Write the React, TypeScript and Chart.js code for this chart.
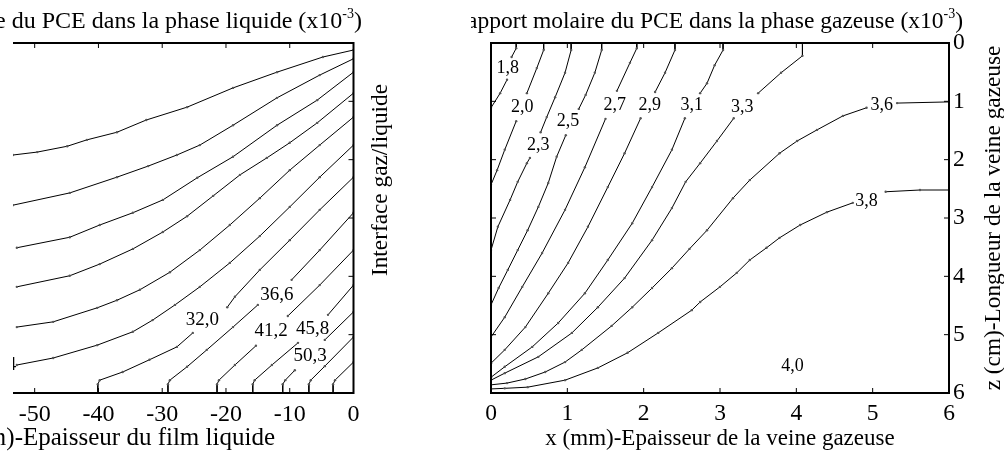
import React, { useEffect, useRef } from 'react';
import { Chart, registerables } from 'chart.js';

Chart.register(...registerables);

const SERIF = "'Liberation Serif', 'Times New Roman', Times, serif";

// ---------------- Left panel: liquid phase ----------------
const liquidTitle = 'Fraction molaire du PCE dans la phase liquide (x10';
const titleSup = '-3';
const titleTail = ')';
const liquidXTitle = 'x (µm)-Epaisseur du film liquide';
const interfaceTitle = 'Interface gaz/liquide';
const liquidXTicks = [-50, -40, -30, -20, -10, 0];
const zTicks = [0, 1, 2, 3, 4, 5, 6];

const liquidLevels = ['4,6', '9,2', '13,7', '18,3', '22,9', '27,4', '32,0', '36,6', '41,2', '45,8', '50,3', '54,9', '59,5'];
const liquidLineX: (number | null)[][] = [
  [0, -4.8, -12.0, -18.9, -26.1, -32.5, -37.1, -41.8, -44.9, -49.6, -53.4],
  [0, -5.3, -12.0, -18.9, -24.1, -27.7, -32.2, -37.1, -44.5, -53.4],
  [0, -5.7, -12.0, -18.9, -24.5, -29.9, -34.6, -39.8, -44.5, -52.8],
  [0, -5.7, -10.0, -13.6, -17.8, -22.0, -26.1, -29.9, -34.6, -39.8, -44.5, -52.8],
  [0, -5.3, -10.0, -14.7, -19.4, -24.1, -28.8, -33.5, -37.1, -40.2, -47.1, -52.8],
  [0, -5.3, -10.0, -14.7, -19.4, -24.1, -28.0, -31.5, -34.6, -40.2, -47.1, -52.8],
  [0, -5.3, -10.0, -14.7, -18.6, -19.8, null, -25.2, -27.7, -32.0, -36.2, -39.8, -40.1, -40.1],
  [0, -5.3, -9.7, null, -15.0, -18.9, -23.0, -26.1, -28.8, -29.1, -29.1],
  [0, -5.3, -10.3, null, -15.3, -18.6, -21.1, -21.4, -21.4],
  [0, -4.0, null, -8.7, -12.8, -15.5, -15.8, -15.8],
  [0, -4.5, null, -9.2, -10.7, -11.1, -11.1],
  [0, -4.5, -6.7, -7.0, -7.0],
  [0, -2.9, -3.2, -3.2],
];
const liquidLineZ: (number | null)[][] = [
  [0.12, 0.24, 0.50, 0.77, 1.10, 1.32, 1.53, 1.66, 1.77, 1.87, 1.92],
  [0.27, 0.55, 0.94, 1.41, 1.75, 1.92, 2.11, 2.30, 2.57, 2.78],
  [0.50, 0.98, 1.41, 1.95, 2.31, 2.69, 2.91, 3.12, 3.33, 3.51],
  [0.86, 1.37, 1.71, 1.97, 2.26, 2.62, 2.97, 3.24, 3.53, 3.79, 3.99, 4.18],
  [1.27, 1.75, 2.18, 2.66, 3.12, 3.55, 3.93, 4.23, 4.41, 4.54, 4.78, 4.87],
  [1.75, 2.30, 2.81, 3.31, 3.77, 4.18, 4.49, 4.75, 4.95, 5.18, 5.40, 5.52],
  [2.30, 2.86, 3.38, 3.89, 4.35, 4.53, null, 4.97, 5.21, 5.43, 5.64, 5.78, 5.85, 6.0],
  [2.91, 3.55, 4.06, null, 4.49, 4.87, 5.26, 5.55, 5.78, 5.85, 6.0],
  [3.55, 4.15, 4.68, null, 5.19, 5.52, 5.78, 5.85, 6.0],
  [4.15, 4.66, null, 5.14, 5.52, 5.78, 5.85, 6.0],
  [4.61, 5.09, null, 5.61, 5.78, 5.85, 6.0],
  [5.04, 5.54, 5.78, 5.85, 6.0],
  [5.47, 5.78, 5.85, 6.0],
];
const liquidLabelText = ['27,4', '32,0', '36,6', '41,2', '45,8', '50,3'];
const liquidLabelX = [-55.5, -23.7, -12.0, -12.9, -6.4, -6.8];
const liquidLabelZ = [5.52, 4.75, 4.32, 4.94, 4.90, 5.37];

// ---------------- Right panel: gas phase ----------------
const gasTitle = 'Rapport molaire du PCE dans la phase gazeuse (x10';
const gasXTitle = 'x (mm)-Epaisseur de la veine gazeuse';
const gasZTitle = 'z (cm)-Longueur de la veine gazeuse';
const gasXTicks = [0, 1, 2, 3, 4, 5, 6];

const gasLevels = ['1,8', '2,0', '2,3', '2,5', '2,7', '2,9', '3,1', '3,3', '3,6', '3,8'];
const gasLineX: (number | null)[][] = [
  [0.33, 0.33, 0.27, null, 0.21, 0.12, 0],
  [0.69, 0.69, 0.60, 0.47, null, 0.33, 0.18, 0.08, 0],
  [1.05, 1.05, 0.97, 0.84, 0.73, 0.65, null, 0.51, 0.47, 0.35, 0.25, 0.09, 0],
  [1.45, 1.45, 1.36, 1.24, 1.15, null, 0.98, 0.86, 0.75, 0.62, 0.48, 0.35, 0.22, 0.10, 0],
  [1.91, 1.91, 1.82, 1.65, null, 1.50, 1.23, 0.97, 0.67, 0.41, 0.18, 0],
  [2.41, 2.41, 2.28, 2.15, null, 1.96, 1.75, 1.53, 1.27, 1.01, 0.75, 0.45, 0.18, 0],
  [3.04, 3.04, 2.93, 2.83, 2.74, null, 2.54, 2.37, 2.11, 1.85, 1.53, 1.23, 0.88, 0.54, 0.18, 0],
  [4.08, 4.08, 3.80, 3.50, null, 3.18, 2.96, 2.74, 2.55, 2.37, 2.11, 1.75, 1.40, 1.06, 0.62, 0.18, 0],
  [6, 5.32, null, 4.92, 4.61, 4.27, 4.01, 3.78, 3.39, 3.17, 2.83, 2.60, 2.37, 2.11, 1.85, 1.58, 1.19, 0.97, 0.71, 0.45, 0.21, 0],
  [6, 5.62, 5.17, null, 4.74, 4.40, 4.05, 3.78, 3.61, 3.39, 3.22, 3.00, 2.74, 2.63, 2.19, 1.79, 1.40, 0.97, 0.48, 0.18, 0],
];
const gasLineZ: (number | null)[][] = [
  [0, 0.09, 0.24, null, 0.63, 0.86, 1.11],
  [0, 0.12, 0.43, 0.86, null, 1.34, 1.83, 2.18, 2.43],
  [0, 0.12, 0.51, 0.93, 1.27, 1.53, null, 1.97, 2.06, 2.38, 2.69, 3.15, 3.55],
  [0, 0.12, 0.51, 0.89, 1.13, null, 1.58, 1.95, 2.40, 2.81, 3.21, 3.55, 3.89, 4.20, 4.49],
  [0, 0.09, 0.34, 0.82, null, 1.30, 2.13, 2.86, 3.60, 4.18, 4.70, 5.04],
  [0, 0.12, 0.51, 0.84, null, 1.29, 1.89, 2.47, 3.15, 3.77, 4.29, 4.87, 5.26, 5.49],
  [0, 0.12, 0.38, 0.69, 0.86, null, 1.29, 1.83, 2.47, 3.09, 3.72, 4.29, 4.80, 5.21, 5.55, 5.73],
  [0, 0.22, 0.51, 0.86, null, 1.29, 1.68, 2.06, 2.38, 2.83, 3.38, 4.03, 4.53, 4.97, 5.38, 5.66, 5.78],
  [1.01, 1.03, null, 1.11, 1.25, 1.49, 1.68, 1.89, 2.35, 2.66, 3.21, 3.53, 3.86, 4.20, 4.53, 4.85, 5.26, 5.47, 5.64, 5.76, 5.83, 5.86],
  [2.52, 2.52, 2.55, null, 2.74, 2.90, 3.12, 3.34, 3.51, 3.72, 3.94, 4.18, 4.44, 4.58, 4.97, 5.31, 5.57, 5.78, 5.90, 5.92, 5.93],
];
const gasLabelText = ['1,8', '2,0', '2,3', '2,5', '2,7', '2,9', '3,1', '3,3', '3,6', '3,8', '4,0'];
const gasLabelX = [0.22, 0.41, 0.62, 1.01, 1.62, 2.08, 2.63, 3.29, 5.12, 4.92, 3.95];
const gasLabelZ = [0.43, 1.10, 1.75, 1.35, 1.06, 1.06, 1.06, 1.10, 1.06, 2.71, 5.54];

// ---------------- helpers ----------------
function buildDatasets(levels: string[], xs: (number | null)[][], zs: (number | null)[][]) {
  return levels.map((lvl, i) => ({
    label: lvl,
    data: xs[i].map((x, j) => ({ x: x === null ? NaN : x, y: zs[i][j] === null ? NaN : zs[i][j] })),
    borderColor: '#000',
    borderWidth: 1,
    pointRadius: 1.2,
    pointBackgroundColor: '#555',
    pointBorderWidth: 0,
    tension: 0,
    fill: false,
    spanGaps: false,
  }));
}

function drawTitleSup(ctx: CanvasRenderingContext2D, main: string, rightX: number, baseline: number, size: number) {
  const big = `${size}px ${SERIF}`;
  const small = `${Math.round(size * 0.6)}px ${SERIF}`;
  ctx.font = big;
  const w1 = ctx.measureText(main).width;
  const w3 = ctx.measureText(titleTail).width;
  ctx.font = small;
  const w2 = ctx.measureText(titleSup).width;
  let x = rightX - (w1 + w2 + w3);
  ctx.textAlign = 'left';
  ctx.textBaseline = 'alphabetic';
  ctx.font = big;
  ctx.fillText(main, x, baseline);
  x += w1;
  ctx.font = small;
  ctx.fillText(titleSup, x, baseline - size * 0.42);
  x += w2;
  ctx.font = big;
  ctx.fillText(titleTail, x, baseline);
}

function framePlugin(sides: { left: boolean }, xTicks: number[], yTicks: number[], yBothSides: boolean) {
  return {
    id: 'frameTicks',
    afterDatasetsDraw(chart: any) {
      const { ctx, chartArea: a, scales } = chart;
      ctx.save();
      ctx.strokeStyle = '#000';
      ctx.lineWidth = 1;
      const L = 5;
      ctx.beginPath();
      for (const v of xTicks) {
        const px = scales.x.getPixelForValue(v);
        ctx.moveTo(px, a.bottom);
        ctx.lineTo(px, a.bottom - L);
        ctx.moveTo(px, a.top);
        ctx.lineTo(px, a.top + L);
      }
      for (const v of yTicks) {
        const py = scales.y.getPixelForValue(v);
        ctx.moveTo(a.right, py);
        ctx.lineTo(a.right - L, py);
        if (yBothSides) {
          ctx.moveTo(a.left, py);
          ctx.lineTo(a.left + L, py);
        }
      }
      ctx.stroke();
      ctx.lineWidth = 2;
      ctx.beginPath();
      if (sides.left) {
        ctx.rect(a.left, a.top, a.right - a.left, a.bottom - a.top);
      } else {
        ctx.moveTo(a.left, a.top);
        ctx.lineTo(a.right, a.top);
        ctx.lineTo(a.right, a.bottom);
        ctx.lineTo(a.left, a.bottom);
      }
      ctx.stroke();
      ctx.restore();
    },
  };
}

function labelPlugin(texts: string[], xs: number[], zs: number[], size: number) {
  return {
    id: 'contourLabels',
    afterDatasetsDraw(chart: any) {
      const { ctx, scales, chartArea: a } = chart;
      ctx.save();
      ctx.beginPath();
      ctx.rect(a.left, a.top, a.right - a.left, a.bottom - a.top);
      ctx.clip();
      ctx.fillStyle = '#000';
      ctx.font = `${size}px ${SERIF}`;
      ctx.textAlign = 'center';
      ctx.textBaseline = 'middle';
      texts.forEach((t, i) => {
        ctx.fillText(t, scales.x.getPixelForValue(xs[i]), scales.y.getPixelForValue(zs[i]));
      });
      ctx.restore();
    },
  };
}

const leftTextPlugin = {
  id: 'leftTexts',
  afterDraw(chart: any) {
    const { ctx } = chart;
    ctx.save();
    ctx.fillStyle = '#000';
    drawTitleSup(ctx, liquidTitle, 362, 28, 24);
    ctx.font = `25px ${SERIF}`;
    ctx.textAlign = 'right';
    ctx.textBaseline = 'alphabetic';
    ctx.fillText(liquidXTitle, 275, 445);
    ctx.font = `23.3px ${SERIF}`;
    ctx.translate(387, 180);
    ctx.rotate(-Math.PI / 2);
    ctx.textAlign = 'center';
    ctx.fillText(interfaceTitle, 0, 0);
    ctx.restore();
  },
};

const RIGHT_OFFSET = 471;

const rightTextPlugin = {
  id: 'rightTexts',
  afterDraw(chart: any) {
    const { ctx, chartArea: a } = chart;
    ctx.save();
    ctx.fillStyle = '#000';
    drawTitleSup(ctx, gasTitle, 963 - RIGHT_OFFSET, 28, 23.5);
    ctx.font = `23px ${SERIF}`;
    ctx.textAlign = 'center';
    ctx.textBaseline = 'alphabetic';
    ctx.fillText(gasXTitle, (a.left + a.right) / 2, 445);
    ctx.font = `23.3px ${SERIF}`;
    ctx.translate(1000 - RIGHT_OFFSET, (a.top + a.bottom) / 2);
    ctx.rotate(-Math.PI / 2);
    ctx.fillText(gasZTitle, 0, 0);
    ctx.restore();
  },
};

export default function App() {
  const leftRef = useRef<HTMLCanvasElement>(null);
  const rightRef = useRef<HTMLCanvasElement>(null);

  useEffect(() => {
    const left = new Chart(leftRef.current as HTMLCanvasElement, {
      type: 'line',
      data: { datasets: buildDatasets(liquidLevels, liquidLineX, liquidLineZ) as any },
      options: {
        responsive: false,
        animation: false,
        devicePixelRatio: 1,
        layout: { padding: { top: 43, left: 13, right: 471 - 353.5, bottom: 0 } },
        plugins: { legend: { display: false }, tooltip: { enabled: false }, title: { display: false } },
        scales: {
          x: {
            type: 'linear',
            min: -53.4,
            max: 0,
            position: 'bottom',
            grid: { display: false, drawTicks: false },
            border: { display: false },
            ticks: { font: { family: SERIF, size: 24 }, color: '#000', padding: 7, autoSkip: false, maxRotation: 0 },
            afterBuildTicks: (s: any) => {
              s.ticks = liquidXTicks.map((v) => ({ value: v }));
            },
            afterFit: (s: any) => {
              s.height = 60;
            },
          },
          y: {
            type: 'linear',
            min: 0,
            max: 6,
            reverse: true,
            display: false,
          },
        },
      } as any,
      plugins: [
        framePlugin({ left: false }, liquidXTicks.slice(0, 5), zTicks, false),
        labelPlugin(liquidLabelText, liquidLabelX, liquidLabelZ, 19),
        leftTextPlugin,
      ] as any,
    });

    const right = new Chart(rightRef.current as HTMLCanvasElement, {
      type: 'line',
      data: { datasets: buildDatasets(gasLevels, gasLineX, gasLineZ) as any },
      options: {
        responsive: false,
        animation: false,
        devicePixelRatio: 1,
        layout: { padding: { top: 43, left: 491 - RIGHT_OFFSET, right: 0, bottom: 0 } },
        plugins: { legend: { display: false }, tooltip: { enabled: false }, title: { display: false } },
        scales: {
          x: {
            type: 'linear',
            min: 0,
            max: 6,
            position: 'bottom',
            grid: { display: false, drawTicks: false },
            border: { display: false },
            ticks: { font: { family: SERIF, size: 23.5 }, color: '#000', padding: 7, stepSize: 1, maxRotation: 0 },
            afterFit: (s: any) => {
              s.height = 60;
            },
          },
          y: {
            type: 'linear',
            min: 0,
            max: 6,
            reverse: true,
            position: 'right',
            grid: { display: false, drawTicks: false },
            border: { display: false },
            ticks: { font: { family: SERIF, size: 23.5 }, color: '#000', padding: 4, stepSize: 1 },
            afterFit: (s: any) => {
              s.width = 1004 - 949;
            },
          },
        },
      } as any,
      plugins: [
        framePlugin({ left: true }, gasXTicks, zTicks, true),
        labelPlugin(gasLabelText, gasLabelX, gasLabelZ, 18),
        rightTextPlugin,
      ] as any,
    });

    return () => {
      left.destroy();
      right.destroy();
    };
  }, []);

  return (
    <div style={{ position: 'absolute', left: 0, top: 0, width: 1004, height: 453, background: '#fff', overflow: 'hidden' }}>
      <canvas
        ref={leftRef}
        width={RIGHT_OFFSET}
        height={453}
        style={{ position: 'absolute', left: 0, top: 0, width: RIGHT_OFFSET, height: 453 }}
      />
      <canvas
        ref={rightRef}
        width={1004 - RIGHT_OFFSET}
        height={453}
        style={{ position: 'absolute', left: RIGHT_OFFSET, top: 0, width: 1004 - RIGHT_OFFSET, height: 453 }}
      />
    </div>
  );
}
